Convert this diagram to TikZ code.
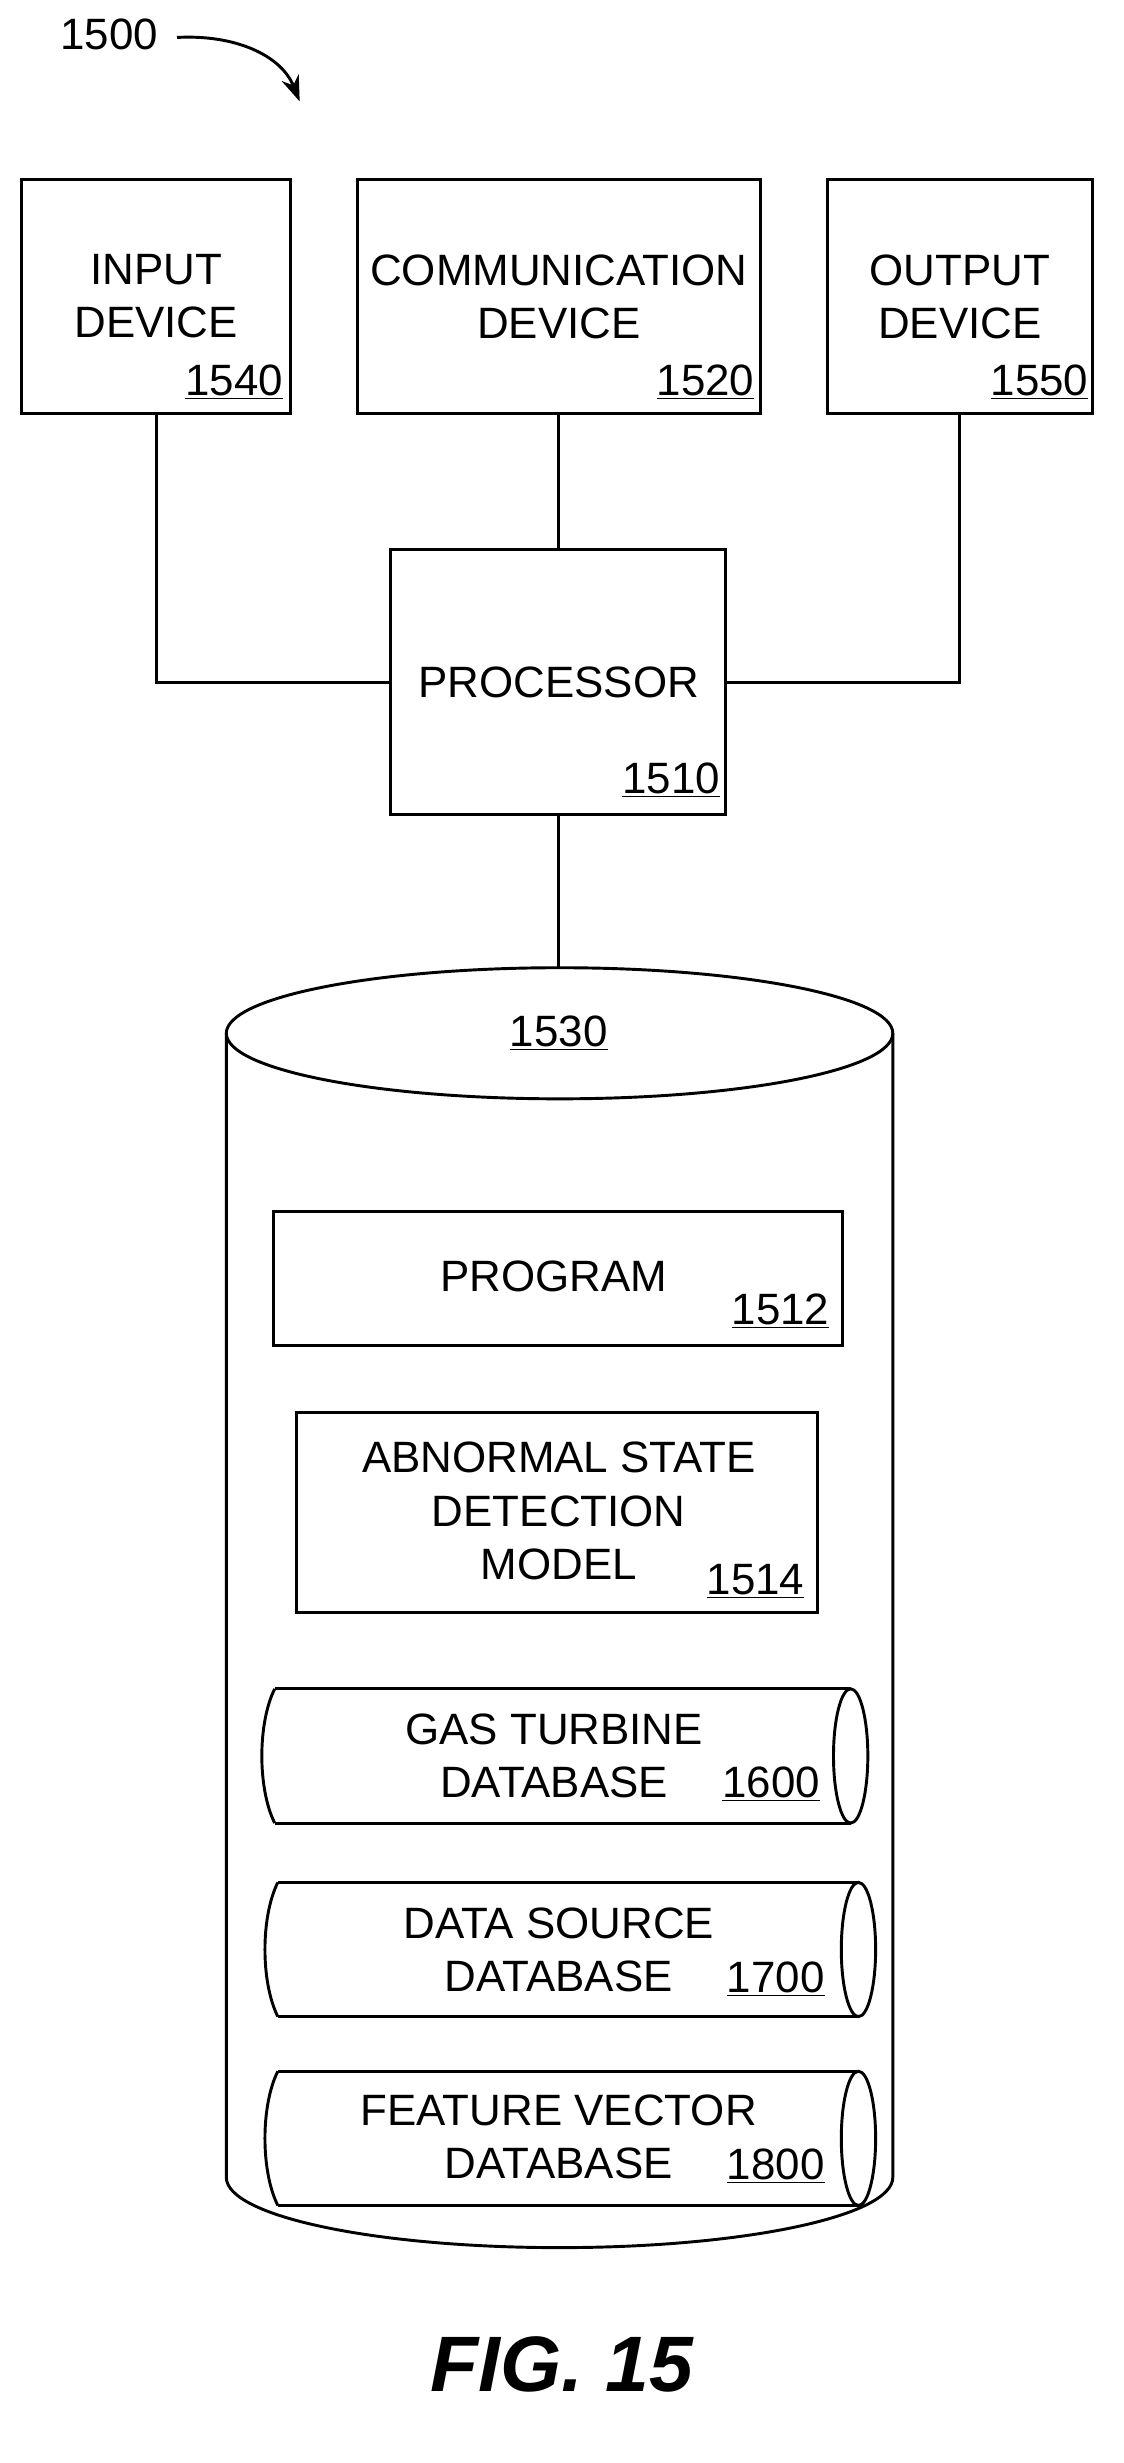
\documentclass[tikz,border=0pt]{standalone}
\usepackage{fontspec}
\setmainfont{Liberation Sans}
\usetikzlibrary{positioning,calc,arrows.meta}
\tikzset{
  box/.style={draw, line width=1.6pt},
  txt/.style={font=\fontsize{24}{29}\selectfont, align=center},
  num/.style={font=\fontsize{24}{29}\selectfont},
  wire/.style={line width=1.6pt},
}
\newcommand{\refnum}[1]{\underline{#1}}
\newcommand{\drum}[5]{% x1, x2, ytop, ybot, name
  \draw[box] (#1+8,#3) -- (#2,#3);
  \draw[box] (#1+8,#4) -- (#2,#4);
  \draw[box] (#1+8,#3) .. controls (#1-3,#3-22) and (#1-3,#4+22) .. (#1+8,#4);
  \draw[box] (#2,{(#3+#4)/2}) ellipse (11 and {(#3-#4)/2});
  \coordinate (#5) at ({(#1+#2)/2},{(#3+#4)/2});
}
\begin{document}
\begin{tikzpicture}[x=0.03cm,y=0.03cm]
\useasboundingbox (0,0) rectangle (720,-1578);

            %% top row
            \draw[box] (14,-115) rectangle (186,-265);
                \node[txt] (input) at (100,-190) {INPUT\\DEVICE};
                \node[num] (n1540) at (150,-245) {\refnum{1540}};
            \draw[box] (229,-115) rectangle (487,-265);
                \node[txt] (comm) at (358,-190) {COMMUNICATION\\DEVICE};
                \node[num] (n1520) at (452,-245) {\refnum{1520}};
            \draw[box] (530,-115) rectangle (700,-265);
                \node[txt] (output) at (615,-190) {OUTPUT\\DEVICE};
                \node[num] (n1550) at (666,-245) {\refnum{1550}};

            %% processor
            \node[box, minimum width=215*0.03cm, minimum height=170*0.03cm] (proc) at (357.5,-437) {};
                \node[txt] at (358,-437) {PROCESSOR};
                \node[num] (n1510) at (430,-500) {\refnum{1510}};

            \coordinate (inbot) at (100,-265);
            \coordinate (outbot) at (615,-265);
            \coordinate (commbot) at (358,-265);
            \draw[wire] (inbot) |- (proc.west);
            \draw[wire] (outbot) |- (proc.east);
            \draw[wire] (commbot) -- (proc.north -| commbot);

            %% storage cylinder
            \coordinate (dbtop) at (358,-620);
            \draw[wire] (proc.south -| dbtop) -- (dbtop);
            \draw[box] (358.5,-662) ellipse (213.5 and 42);
            \draw[box] (145,-662) -- (145,-1395) arc[start angle=180, end angle=360, x radius=213.5, y radius=45] -- (572,-662);
                \node[num] (n1530) at (358,-662) {\refnum{1530}};

            %% contents
            \draw[box] (175,-776) rectangle (540,-862);
                \node[txt] (prog) at (355,-818) {PROGRAM};
                \node[num] (n1512) at (500,-840) {\refnum{1512}};
            \draw[box] (190,-905) rectangle (524,-1033);
                \node[txt] (model) at (358,-968) {ABNORMAL STATE\\DETECTION\\MODEL};
                \node[num] (n1514) at (484,-1013) {\refnum{1514}};

            \drum{168}{545}{-1082}{-1168}{gt}
                \node[txt] at (355,-1125) {GAS TURBINE\\DATABASE};
                \node[num] (n1600) at (494,-1143) {\refnum{1600}};
            \drum{170}{550}{-1206}{-1292}{ds}
                \node[txt] at (358,-1249) {DATA SOURCE\\DATABASE};
                \node[num] (n1700) at (497,-1268) {\refnum{1700}};
            \drum{170}{550}{-1327}{-1413}{fv}
                \node[txt] at (358,-1369) {FEATURE VECTOR\\DATABASE};
                \node[num] (n1800) at (497,-1388) {\refnum{1800}};

            %% reference label
            \node[num] (n1500) at (70,-22) {1500};
            \coordinate (arrtip) at (192,-65);
            \draw[wire, -{Stealth[length=14pt,width=10pt]}] ($(n1500.east)+(8,-2)$) .. controls (150,-22) and (180,-35) .. (arrtip);

            \node[font=\fontsize{43}{50}\selectfont\bfseries\itshape] (fig) at (360,-1515) {FIG. 15};
\end{tikzpicture}
\end{document}
